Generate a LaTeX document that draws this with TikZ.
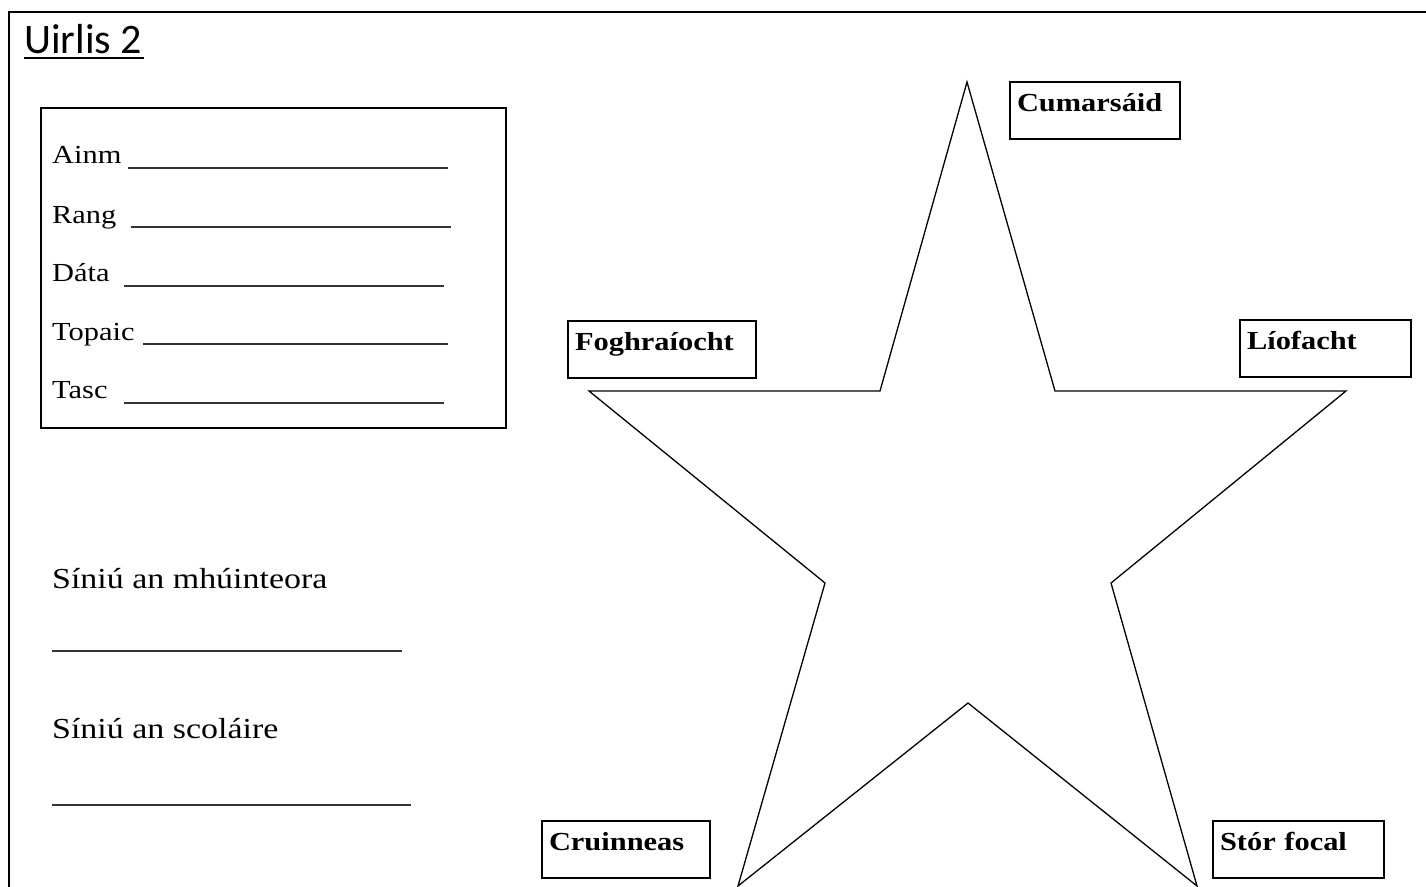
\documentclass[tikz,border=0pt]{standalone}
\usepackage{fontspec}
\setmainfont{Liberation Serif}[FakeStretch=1.17]
\newfontfamily\titlefont{Carlito}
\usepackage{tikz}
\tikzset{
  lab/.style={anchor=base west, inner sep=0pt, font=\fontsize{26}{30}\selectfont},
  sig/.style={anchor=base west, inner sep=0pt, font=\fontsize{29}{34}\selectfont},
  skill/.style={draw, line width=2pt, anchor=north west, inner xsep=7pt, inner ysep=0pt,
    text height=29pt, text depth=28pt, align=left, font=\fontsize{26}{30}\selectfont\bfseries},
  blank/.style={line width=1.4pt, black!80}
}

\begin{document}
\begin{tikzpicture}[x=1pt, y=-1pt]
        \clip (0,0) rectangle (1426,886);
        \draw[line width=2.4pt] (9,900) -- (9,12) -- (1440,12);
        \node (title) [anchor=base west, inner sep=0pt, font=\titlefont\fontsize{42}{48}\selectfont] at (24,53) {Uirlis 2};
        \draw[line width=1.8pt] (24,58) -- (144,58);
        % name box
        \draw[line width=1.3pt] (41,108) rectangle (506,428);
        \node (ainm) [lab] at (52,163) {Ainm};
        \node (rang) [lab] at (52,223) {Rang};
        \node (data) [lab] at (52,281) {Dáta};
        \node (topaic) [lab] at (52,340) {Topaic};
        \node (tasc) [lab] at (52,398) {Tasc};
        \draw[blank] (128,168) -- (448,168);
        \draw[blank] (131,227) -- (451,227);
        \draw[blank] (124,286) -- (444,286);
        \draw[blank] (143,344) -- (448,344);
        \draw[blank] (124,403) -- (444,403);
        % signatures
        \node (muinteoir) [sig] at (52,588) {Síniú an mhúinteora};
        \draw[blank] (52,651) -- (402,651);
        \node (scolaire) [sig] at (52,738) {Síniú an scoláire};
        \draw[blank] (52,805) -- (411,805);
        % star
        \draw[line width=1.3pt] (967,82) -- (1055,391) -- (1346,391) -- (1111,583) -- (1197,886)
          -- (968,703) -- (738,886) -- (825,583) -- (589,391) -- (880,391) -- cycle;
        \node (cum) [skill, text width=156pt] at (1009,81) {Cumarsáid};
        \node (fogh) [skill, text width=174pt] at (567,320) {Foghraíocht};
        \node (liof) [skill, text width=157pt] at (1239,319) {Líofacht};
        \node (cruin) [skill, text width=154pt] at (541,820) {Cruinneas};
        \node (stor) [skill, text width=157pt] at (1212,820) {Stór focal};
      \end{tikzpicture}
\end{document}
